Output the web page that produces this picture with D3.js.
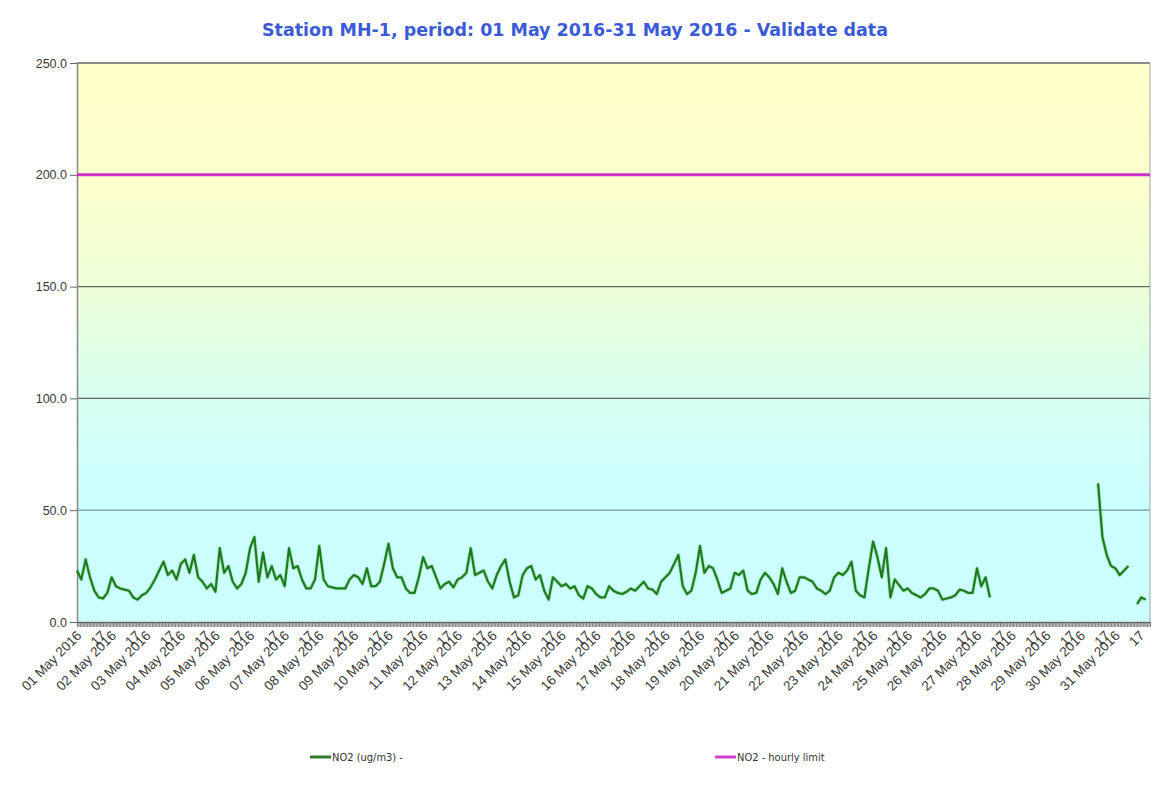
<!DOCTYPE html>
<html>
<head>
<meta charset="utf-8">
<script src="https://cdn.jsdelivr.net/npm/d3@7/dist/d3.min.js"></script>
<style>
    body { margin: 0; background: #ffffff; }
    svg { display: block; font-family: "Liberation Sans", Arial, sans-serif; }
</style>
</head>
<body>
<svg id="chart" width="1154" height="811"></svg>
<script>
// NO2 hourly concentration, one value every 3 hours (8 per day), null = no data
const day01 = [23, 19, 28, 20, 14, 11, 10.5, 13];
const day02 = [20, 16, 15, 14.5, 14, 11, 10, 12];
const day03 = [13, 15.5, 19, 23, 27, 21, 23, 19];
const day04 = [26, 28, 22, 30, 20, 18, 15, 17];
const day05 = [13.5, 33, 22, 25, 18, 15, 17, 22];
const day06 = [33, 38, 18, 31, 20, 25, 19, 21];
const day07 = [16, 33, 24, 25, 19, 15, 15, 19];
const day08 = [34, 19, 16, 15.5, 15, 15, 15, 19];
const day09 = [21, 20, 17, 24, 16, 16, 18, 26];
const day10 = [35, 24, 20, 20, 15, 13, 13, 20];
const day11 = [29, 24, 25, 20, 15, 17, 18, 15.5];
const day12 = [19, 20, 22, 33, 21, 22, 23, 18];
const day13 = [15, 21, 25, 28, 18, 11, 12, 21];
const day14 = [24, 25, 19, 21, 14, 10, 20, 18];
const day15 = [16, 17, 15, 16, 12, 10.5, 16, 15];
const day16 = [12.5, 11, 11, 16, 14, 13, 12.5, 13.5];
const day17 = [15, 14, 16, 18, 15, 14.5, 12.5, 18];
const day18 = [20, 22, 26, 30, 16, 12.5, 14, 22];
const day19 = [34, 22, 25, 24, 19, 13, 14, 15];
const day20 = [22, 21, 23, 14, 12.5, 13, 19, 22];
const day21 = [20, 17, 12.5, 24, 18, 13, 14, 20];
const day22 = [20, 19, 18, 15, 14, 12.5, 14, 20];
const day23 = [22, 21, 23, 27, 14, 12, 11, 24];
const day24 = [36, 29, 20, 33, 11, 19, 16.5, 14];
const day25 = [15, 13, 12, 11, 12.5, 15, 15, 14];
const day26 = [10, 10.5, 11, 12, 14.5, 14, 13, 13];
const day27 = [24, 16, 20, 11, null, null, null, null];
const day28 = [null, null, null, null, null, null, null, null];
const day29 = [null, null, null, null, null, null, null, null];
const day30 = [null, null, null, null, 62, 38, 30, 25];
const day31 = [24, 21, 23, 25, null, 8, 11, 10];

const no2 = [].concat(day01, day02, day03, day04, day05, day06, day07, day08, day09, day10,
    day11, day12, day13, day14, day15, day16, day17, day18, day19, day20,
    day21, day22, day23, day24, day25, day26, day27, day28, day29, day30, day31);

const dayLabels = d3.range(1, 32).map(d => d3.format("02")(d) + " May 2016");
const hourLabel = "17";
const yTicks = [0, 50, 100, 150, 200, 250];
const hourlyLimit = 200;
const stepHours = 3;
const totalHours = 31 * 24;

const titleText = "Station MH-1, period: 01 May 2016-31 May 2016 - Validate data";
const legendNames = ["NO2 (ug/m3)  -", "NO2 - hourly limit"];

let svg = d3.select("#chart"),
    margin = {top: 63, right: 4, bottom: 189, left: 77},
    width = +svg.attr("width") - margin.left - margin.right,
    height = +svg.attr("height") - margin.top - margin.bottom,
    g = svg.append("g").attr("transform", "translate(" + margin.left + "," + margin.top + ")");

let x = d3.scaleLinear().domain([0, totalHours]).range([0, width]);
let y = d3.scaleLinear().domain([0, 250]).range([height, 0]);

// background gradient (yellow top -> cyan bottom)
let defs = svg.append("defs");
let grad = defs.append("linearGradient")
    .attr("id", "bg").attr("x1", 0).attr("y1", 0).attr("x2", 0).attr("y2", 1);
[["0%", "#ffffc8"], ["22%", "#fcffcc"], ["42%", "#ecffda"], ["60%", "#d6fff0"],
    ["78%", "#ccffff"], ["100%", "#ccffff"]].forEach(s => {
    grad.append("stop").attr("offset", s[0]).attr("stop-color", s[1]);
});

g.append("rect")
    .attr("width", width).attr("height", height)
    .attr("fill", "url(#bg)");

// title
svg.append("text")
    .attr("x", 575).attr("y", 36)
    .attr("text-anchor", "middle")
    .attr("textLength", 626)
    .attr("lengthAdjust", "spacingAndGlyphs")
    .style("font-family", "'DejaVu Sans Condensed', 'DejaVu Sans', sans-serif")
    .style("font-weight", "bold")
    .style("font-size", "17px")
    .style("fill", "#3b5bd6")
    .text(titleText);

// horizontal grid
g.append("g")
    .selectAll("line")
    .data(yTicks.filter(t => t > 0 && t !== hourlyLimit))
    .enter().append("line")
    .attr("x1", 0).attr("x2", width)
    .attr("y1", d => y(d)).attr("y2", d => y(d))
    .attr("stroke", d => d === 50 ? "#6f9a9a" : "#5f6a5f")
    .attr("stroke-width", 1.3);

// frame top and right
g.append("line").attr("x1", 0).attr("x2", width).attr("y1", 0).attr("y2", 0)
    .attr("stroke", "#8a8a80").attr("stroke-width", 1.5);
g.append("line").attr("x1", width).attr("x2", width).attr("y1", 0).attr("y2", height)
    .attr("stroke", "#9aa").attr("stroke-width", 1);

// y axis
let yAxis = g.append("g")
    .call(d3.axisLeft(y).tickValues(yTicks).tickFormat(d3.format(".1f")).tickSize(7).tickSizeOuter(0));
yAxis.select(".domain").attr("stroke", "#888").attr("stroke-width", 1.5);
yAxis.selectAll(".tick line").attr("stroke", "#666");
yAxis.selectAll(".tick text")
    .attr("x", -10)
    .style("font-size", "12.5px")
    .style("fill", "#3a3a3a");

// x axis: hourly ticks
let xAxis = g.append("g")
    .attr("transform", "translate(0," + height + ")")
    .call(d3.axisBottom(x).tickValues(d3.range(0, totalHours + 1)).tickFormat("").tickSize(5).tickSizeOuter(0));
xAxis.select(".domain").attr("stroke", "#777").attr("stroke-width", 1.5);
xAxis.selectAll(".tick line").attr("stroke", "#5a5a5a").attr("stroke-width", 0.8);

// x labels: day label and hour label, rotated
let labelData = [];
dayLabels.forEach((lab, i) => {
    labelData.push({h: i * 24, text: lab});
    labelData.push({h: i * 24 + 17, text: hourLabel});
});
g.append("g")
    .selectAll("text")
    .data(labelData)
    .enter().append("text")
    .attr("transform", d => "translate(" + (x(d.h) + 2) + "," + (height + 11) + ") rotate(-45)")
    .attr("text-anchor", "end")
    .attr("dy", "0.35em")
    .style("font-size", "13.5px")
    .style("fill", "#3a3a3a")
    .text(d => d.text);

// hourly limit line
g.append("line")
    .attr("x1", 0).attr("x2", width)
    .attr("y1", y(hourlyLimit)).attr("y2", y(hourlyLimit))
    .attr("stroke", "#cc33cc").attr("stroke-width", 3);

// NO2 line
let line = d3.line()
    .defined(d => d != null)
    .x((d, i) => x(i * stepHours))
    .y(d => y(d));

g.append("path")
    .datum(no2)
    .attr("fill", "none")
    .attr("stroke", "#6fc86f")
    .attr("stroke-width", 4)
    .attr("stroke-opacity", 0.35)
    .attr("stroke-linejoin", "round")
    .attr("d", line);

g.append("path")
    .datum(no2)
    .attr("fill", "none")
    .attr("stroke", "#1f7a1f")
    .attr("stroke-width", 2.2)
    .attr("stroke-linejoin", "round")
    .attr("d", line);

// legend
let legend = svg.append("g");
let legendItems = [
    {x: 310, color: "#2e7d2e", name: legendNames[0]},
    {x: 715, color: "#d040d0", name: legendNames[1]}
];
legendItems.forEach(it => {
    legend.append("line")
        .attr("x1", it.x).attr("x2", it.x + 21)
        .attr("y1", 757).attr("y2", 757)
        .attr("stroke", it.color).attr("stroke-width", 3);
    legend.append("text")
        .attr("x", it.x + 22).attr("y", 761)
        .style("font-family", "'Liberation Sans Narrow', 'DejaVu Sans Condensed', sans-serif")
        .style("font-size", "11px")
        .style("fill", "#333")
        .text(it.name);
});
</script>
</body>
</html>
